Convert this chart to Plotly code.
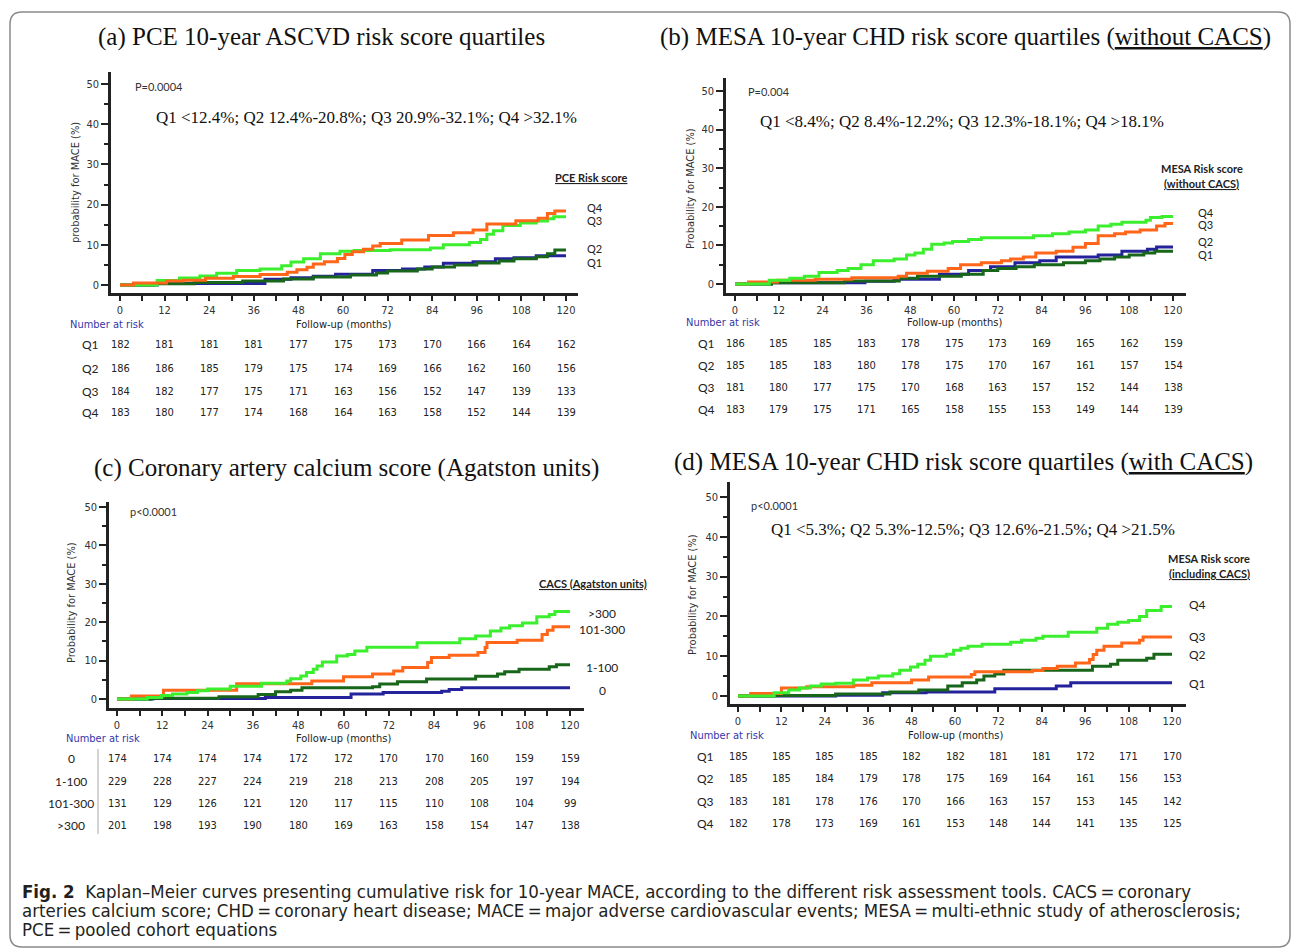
import plotly.graph_objects as go

W, H = 1293, 951

# ------------------------------------------------------------------ data
months = [0, 12, 24, 36, 48, 60, 72, 84, 96, 108, 120]

# Panel (a) PCE
a_q1_t = [0, 10, 39, 46, 52, 58, 68, 76, 82, 87, 95, 101, 106, 112, 120]
a_q1_v = [0, 0.4, 1.4, 1.8, 2.2, 2.7, 3.6, 4.0, 4.5, 5.4, 5.8, 6.5, 6.8, 7.3, 7.3]
a_q2_t = [0, 9, 20, 33, 44, 52, 62, 69, 72, 80, 84, 90, 96, 102, 106, 112, 115, 117, 120]
a_q2_v = [0, 0.3, 0.6, 1.0, 1.5, 2.0, 2.5, 3.0, 3.5, 4.0, 4.5, 5.0, 5.5, 6.0, 6.5, 7.0, 7.8, 8.7, 8.7]
a_q3_t = [0, 3.6, 12.5, 17, 23, 30.5, 37.7, 45, 47.6, 50.3, 52, 55, 58.5, 60.5, 62.5, 65.5, 68, 70,
          75.8, 83, 89.7, 95, 98.7, 106.5, 112.5, 115, 117, 120]
a_q3_v = [0, 0.5, 1.0, 1.2, 1.7, 2.1, 2.6, 3.2, 3.8, 4.4, 5.2, 5.8, 6.6, 7.6, 8.3, 8.9, 9.7, 10.3,
          11.2, 12.3, 13.0, 13.7, 15.2, 16.0, 16.6, 17.8, 18.4, 18.4]
a_q4_t = [0, 10, 16, 21.5, 26, 31.4, 37.7, 43.5, 46, 49.4, 53.9, 59.2, 63, 72.7, 83.5, 87, 94, 97,
          98.7, 100.5, 103, 107.7, 112, 115, 116.7, 120]
a_q4_v = [0, 1.1, 1.75, 2.25, 2.9, 3.6, 4.0, 4.8, 5.7, 6.5, 7.75, 8.4, 8.6, 8.75, 9.2, 10.0, 10.6, 11.3,
          12.6, 13.5, 14.8, 15.4, 15.9, 16.5, 17.0, 17.0]

# Panel (b) MESA without CACS
b_q1_t = [0, 10, 35.6, 43.6, 56, 64, 70, 76.7, 83.5, 88, 99.5, 106, 113, 115.5, 120]
b_q1_v = [0, 0.3, 0.7, 1.2, 2.5, 3.5, 4.5, 5.5, 6.0, 7.0, 7.5, 8.5, 9.0, 9.6, 9.6]
b_q2_t = [0, 10, 30, 45, 50, 62, 68, 72, 77, 82, 90, 96, 100, 104, 108, 112, 115, 120]
b_q2_v = [0, 0.3, 0.8, 1.5, 2.0, 2.5, 3.5, 4.0, 4.5, 5.0, 5.5, 6.0, 6.5, 7.0, 7.5, 8.0, 8.5, 8.5]
b_q3_t = [0, 3.7, 11.6, 22, 32, 44.7, 47, 52.7, 58.4, 61.8, 67.5, 73, 75.5, 79, 82.4, 88, 92.6, 96,
          99.5, 104, 107, 111, 115.5, 117.8, 120]
b_q3_v = [0, 0.5, 1.0, 1.2, 1.6, 2.0, 2.8, 3.3, 4.0, 5.0, 5.5, 6.0, 6.5, 7.0, 8.0, 8.5, 9.5, 10.5,
          12.5, 13.0, 13.5, 14.0, 15.0, 15.7, 15.7]
b_q4_t = [0, 9.4, 15, 19, 23, 28, 31, 34.5, 37.9, 43.6, 47, 49.3, 51.6, 53.9, 57.3, 59.6, 64, 67.5,
          81.8, 87, 91.5, 96, 99.5, 103, 106, 112.6, 113.8, 117, 120]
b_q4_v = [0, 1.0, 1.5, 2.0, 3.0, 3.5, 4.0, 5.0, 6.0, 6.5, 7.5, 8.0, 9.0, 10.3, 10.6, 11.0, 11.5, 12.0,
          12.5, 13.0, 13.5, 14.0, 15.0, 15.5, 16.0, 16.5, 17.2, 17.5, 17.5]

# Panel (c) CACS
c_0_t = [0, 9, 39.3, 62, 70.5, 86, 88, 91.3, 120]
c_0_v = [0, 0.1, 0.4, 1.3, 1.7, 2.0, 2.5, 2.9, 2.9]
c_1_t = [0, 9.5, 27, 37.4, 42, 46, 49, 67.7, 69.6, 74.3, 82, 95, 100.8, 102.7, 106.5, 114.5, 116.4, 120]
c_1_v = [0, 0.2, 0.6, 1.2, 1.9, 2.3, 2.9, 3.2, 3.9, 4.5, 5.2, 5.9, 6.5, 7.1, 7.75, 8.4, 8.9, 8.9]
c_2_t = [0, 3.8, 12.3, 31.7, 51.6, 60, 67.7, 73.3, 75.7, 82.3, 83.3, 88, 95.6, 97.5, 98, 106, 112.6,
         114, 115.5, 120]
c_2_v = [0, 0.8, 2.3, 4.0, 4.7, 5.8, 6.5, 7.3, 8.2, 9.5, 10.8, 11.4, 12.1, 13.4, 14.7, 15.3, 16.8,
         17.9, 18.8, 18.8]
c_3_t = [0, 8, 11.8, 14.7, 18.5, 21.3, 24, 30, 38.3, 45, 46, 48.7, 50.2, 52, 53, 54.4, 58.2, 61, 63,
         66.2, 79.5, 90.8, 95, 98.9, 101.7, 104, 107.4, 111.2, 114.5, 116, 120]
c_3_v = [0, 0.4, 0.9, 1.3, 1.7, 2.15, 2.6, 3.3, 4.1, 4.7, 5.3, 6.0, 6.9, 7.75, 8.6, 9.65, 11.2, 11.6, 12.5,
         13.5, 14.65, 15.7, 16.4, 17.7, 18.5, 19.1, 19.8, 21.4, 22.0, 22.8, 22.8]

# Panel (d) MESA with CACS
d_q1_t = [0, 27, 40, 52, 71, 88, 92, 120]
d_q1_v = [0, 0.2, 0.8, 1.0, 1.8, 2.5, 3.3, 3.3]
d_q2_t = [0, 10, 27, 42, 50, 58, 62, 66, 68, 71, 73.5, 96, 98, 103, 105, 113, 115, 120]
d_q2_v = [0, 0.1, 0.5, 1.0, 1.5, 2.5, 3.3, 4.0, 5.0, 5.5, 6.5, 6.5, 7.5, 8.0, 9.0, 9.5, 10.5, 10.5]
d_q3_t = [0, 3.5, 12, 19, 32, 37, 48, 52.7, 64.5, 65.5, 81.4, 84.3, 88.3, 93.3, 97.2, 98.2, 99.2,
          101.2, 106.1, 111, 112, 120]
d_q3_v = [0, 0.6, 2.0, 2.3, 2.7, 3.3, 4.0, 4.8, 5.4, 6.1, 6.4, 6.9, 7.5, 8.3, 9.2, 10.4, 11.5,
          12.5, 13.3, 14.0, 14.8, 14.8]
d_q4_t = [0, 10, 14, 17, 20, 23, 27, 31.9, 35.8, 38.8, 42.8, 44.7, 47.7, 49.7, 51.7, 53.2, 57.6, 59.6,
          61.6, 63.6, 67.5, 75.4, 78.4, 82.4, 84.3, 91.3, 99.2, 102.2, 105, 108, 111, 113, 117, 120]
d_q4_v = [0, 0.8, 1.5, 2.0, 2.5, 3.0, 3.2, 4.0, 4.5, 5.0, 5.6, 6.5, 7.3, 8.0, 9.0, 10.0, 10.5, 11.5,
          12.0, 12.5, 13.0, 13.5, 14.0, 14.5, 15.0, 16.0, 17.0, 18.0, 18.5, 19.0, 20.0, 21.5, 22.5, 22.5]

# Numbers at risk
a_risk_labels = ["Q1", "Q2", "Q3", "Q4"]
a_risk = [[182, 181, 181, 181, 177, 175, 173, 170, 166, 164, 162],
          [186, 186, 185, 179, 175, 174, 169, 166, 162, 160, 156],
          [184, 182, 177, 175, 171, 163, 156, 152, 147, 139, 133],
          [183, 180, 177, 174, 168, 164, 163, 158, 152, 144, 139]]
b_risk_labels = ["Q1", "Q2", "Q3", "Q4"]
b_risk = [[186, 185, 185, 183, 178, 175, 173, 169, 165, 162, 159],
          [185, 185, 183, 180, 178, 175, 170, 167, 161, 157, 154],
          [181, 180, 177, 175, 170, 168, 163, 157, 152, 144, 138],
          [183, 179, 175, 171, 165, 158, 155, 153, 149, 144, 139]]
c_risk_labels = ["0", "1-100", "101-300", ">300"]
c_risk = [[174, 174, 174, 174, 172, 172, 170, 170, 160, 159, 159],
          [229, 228, 227, 224, 219, 218, 213, 208, 205, 197, 194],
          [131, 129, 126, 121, 120, 117, 115, 110, 108, 104, 99],
          [201, 198, 193, 190, 180, 169, 163, 158, 154, 147, 138]]
d_risk_labels = ["Q1", "Q2", "Q3", "Q4"]
d_risk = [[185, 185, 185, 185, 182, 182, 181, 181, 172, 171, 170],
          [185, 185, 184, 179, 178, 175, 169, 164, 161, 156, 153],
          [183, 181, 178, 176, 170, 166, 163, 157, 153, 145, 142],
          [182, 178, 173, 169, 161, 153, 148, 144, 141, 135, 125]]

# ------------------------------------------------------------------ style
BLUE = "#24239c"
DKGREEN = "#17661a"
ORANGE = "#ff661a"
GREEN = "#3cef2e"
SERIF = "Liberation Serif, Times New Roman, serif"
NARROW = "Liberation Sans Narrow, Arial Narrow, DejaVu Sans Condensed, sans-serif"
CAL = "Lato, Carlito, Calibri, sans-serif"


def px(x):
    return x / W


def py(y):
    return 1 - y / H


fig = go.Figure()

# axis geometry (pixels): x-axis line left/right, y bottom/top, and tick positions
panels = {
    "a": dict(xl=111, xr=578, x0=120, x120=566, yb=293, yt=72, y0=285, y50=84),
    "b": dict(xl=726, xr=1186, x0=735, x120=1173, yb=293, yt=78, y0=284, y50=91),
    "c": dict(xl=109, xr=584, x0=117, x120=570, yb=708, yt=502, y0=699, y50=507),
    "d": dict(xl=730, xr=1186, x0=738, x120=1172, yb=704, yt=482, y0=696, y50=497),
}
axis_ids = {"a": ("x", "y", "xaxis", "yaxis"), "b": ("x2", "y2", "xaxis2", "yaxis2"),
            "c": ("x3", "y3", "xaxis3", "yaxis3"), "d": ("x4", "y4", "xaxis4", "yaxis4")}

layout_axes = {}
for k, g in panels.items():
    xs = (g["x120"] - g["x0"]) / 120.0
    ys = (g["y0"] - g["y50"]) / 50.0
    xrng = [(g["xl"] - g["x0"]) / xs, 120 + (g["xr"] - g["x120"]) / xs]
    yrng = [-(g["yb"] - g["y0"]) / ys, (g["y0"] - g["yt"]) / ys]
    xa, ya, xn, yn = axis_ids[k]
    layout_axes[xn] = dict(domain=[px(g["xl"]), px(g["xr"])], range=xrng, anchor=ya,
                           showline=True, linewidth=2.5, linecolor="#222", showgrid=False,
                           zeroline=False, ticks="outside", ticklen=5, tickwidth=2, tickcolor="#222",
                           tickmode="array", tickvals=months, ticktext=[str(m) for m in months],
                           minor=dict(tickmode="linear", tick0=0, dtick=6, ticks="outside", ticklen=5,
                                      tickwidth=2, tickcolor="#222"),
                           tickfont=dict(family=NARROW, size=11, color="#333"), fixedrange=True)
    layout_axes[yn] = dict(domain=[py(g["yb"]), py(g["yt"])], range=yrng, anchor=xa,
                           showline=True, linewidth=2.5, linecolor="#222", showgrid=False,
                           zeroline=False, ticks="outside", ticklen=7, tickwidth=2, tickcolor="#222",
                           tickmode="array", tickvals=[0, 10, 20, 30, 40, 50],
                           minor=dict(tickmode="linear", tick0=0, dtick=5, ticks="outside", ticklen=4,
                                      tickwidth=2, tickcolor="#222"),
                           tickfont=dict(family=NARROW, size=11, color="#333"), fixedrange=True)


def add_curve(t, v, color, name, k):
    xa, ya, _, _ = axis_ids[k]
    fig.add_trace(go.Scatter(x=t, y=v, mode="lines", line=dict(color=color, width=3, shape="hv"),
                             name=name, xaxis=xa, yaxis=ya, showlegend=False, hoverinfo="skip"))


add_curve(a_q1_t, a_q1_v, BLUE, "Q1", "a")
add_curve(a_q2_t, a_q2_v, DKGREEN, "Q2", "a")
add_curve(a_q4_t, a_q4_v, GREEN, "Q3", "a")
add_curve(a_q3_t, a_q3_v, ORANGE, "Q4", "a")

add_curve(b_q1_t, b_q1_v, BLUE, "Q1", "b")
add_curve(b_q2_t, b_q2_v, DKGREEN, "Q2", "b")
add_curve(b_q3_t, b_q3_v, ORANGE, "Q3", "b")
add_curve(b_q4_t, b_q4_v, GREEN, "Q4", "b")

add_curve(c_0_t, c_0_v, BLUE, "0", "c")
add_curve(c_1_t, c_1_v, DKGREEN, "1-100", "c")
add_curve(c_2_t, c_2_v, ORANGE, "101-300", "c")
add_curve(c_3_t, c_3_v, GREEN, ">300", "c")

add_curve(d_q1_t, d_q1_v, BLUE, "Q1", "d")
add_curve(d_q2_t, d_q2_v, DKGREEN, "Q2", "d")
add_curve(d_q3_t, d_q3_v, ORANGE, "Q3", "d")
add_curve(d_q4_t, d_q4_v, GREEN, "Q4", "d")

ann = []


def text(x, y, s, size=11, family=NARROW, color="#222", xanchor="center", angle=0):
    ann.append(dict(x=px(x), y=py(y), xref="paper", yref="paper", text=s, showarrow=False,
                    xanchor=xanchor, yanchor="middle", textangle=angle,
                    font=dict(size=size, family=family, color=color)))


U = "<span style='text-decoration:underline'>{}</span>"

# titles
text(321, 37, "(a) PCE 10-year ASCVD risk score quartiles", 25, SERIF, "#111")
text(965, 37, "(b) MESA 10-year CHD risk score quartiles (" + U.format("without CACS") + ")", 25, SERIF, "#111")
text(346, 468, "(c) Coronary artery calcium score (Agatston units)", 25, SERIF, "#111")
text(963, 462, "(d) MESA 10-year CHD risk score quartiles (" + U.format("with CACS") + ")", 25, SERIF, "#111")

# p values
text(133, 86, "P=0.0004", 11, CAL, "#333", "left")
text(746, 92, "P=0.004", 11, CAL, "#333", "left")
text(128, 511, "p<0.0001", 11, CAL, "#333", "left")
text(749, 505, "p<0.0001", 11, CAL, "#333", "left")

# quartile definitions
text(154, 117, "Q1 &lt;12.4%; Q2 12.4%-20.8%; Q3 20.9%-32.1%; Q4 &gt;32.1%", 17, SERIF, "#111", "left")
text(758, 122, "Q1 &lt;8.4%; Q2 8.4%-12.2%; Q3 12.3%-18.1%; Q4 &gt;18.1%", 17, SERIF, "#111", "left")
text(769, 529, "Q1 &lt;5.3%; Q2 5.3%-12.5%; Q3 12.6%-21.5%; Q4 &gt;21.5%", 17, SERIF, "#111", "left")

# y-axis titles
text(75, 183, "probability for MACE (%)", 11, NARROW, "#333", angle=-90)
text(690, 188, "Probability for MACE (%)", 11, NARROW, "#333", angle=-90)
text(71, 603, "Probability for MACE (%)", 11, NARROW, "#333", angle=-90)
text(692, 595, "Probability for MACE (%)", 11, NARROW, "#333", angle=-90)

# legend titles
text(591, 178, "<b>" + U.format("PCE Risk score") + "</b>", 11, CAL, "#222")
text(1202, 168, "<b>MESA Risk score</b>", 11, CAL, "#222")
text(1201, 183, "<b>" + U.format("(without CACS)") + "</b>", 11, CAL, "#222")
text(593, 583, "<b>" + U.format("CACS (Agatston units)") + "</b>", 11, CAL, "#222")
text(1209, 558, "<b>MESA Risk score</b>", 11, CAL, "#222")
text(1209, 573, "<b>" + U.format("(including CACS)") + "</b>", 11, CAL, "#222")

# curve end labels
for s, yy in zip(["Q4", "Q3", "Q2", "Q1"], [208, 220, 249, 262]):
    text(585, yy, s, 11, CAL, "#222", "left")
for s, yy in zip(["Q4", "Q3", "Q2", "Q1"], [213, 225, 242, 254]):
    text(1196, yy, s, 11, CAL, "#222", "left")
for s, yy in zip([">300", "101-300", "1-100", "0"], [613, 629, 667, 690]):
    text(602, yy, s, 12, CAL, "#222")
for s, yy in zip(["Q4", "Q3", "Q2", "Q1"], [604, 636, 654, 683]):
    text(1187, yy, s, 12, CAL, "#222", "left")

# number-at-risk tables
tables = {
    "a": (a_risk_labels, a_risk, 68, 324, 90, [345, 368, 391, 413]),
    "b": (b_risk_labels, b_risk, 684, 322, 706, [343, 365, 387, 409]),
    "c": (c_risk_labels, c_risk, 64, 738, 71, [758, 781, 803, 825]),
    "d": (d_risk_labels, d_risk, 688, 735, 705, [756, 778, 801, 823]),
}
for k, (labels, rows, nx, ny, lx, rys) in tables.items():
    xa = axis_ids[k][0]
    text(nx, ny, "Number at risk", 11, NARROW, "#3535a8", "left")
    ann.append(dict(x=60, y=py(ny), xref=xa, yref="paper", text="Follow-up (months)", showarrow=False,
                    xanchor="center", yanchor="middle", font=dict(size=11, family=NARROW, color="#222")))
    for lab, row, ry in zip(labels, rows, rys):
        text(lx, ry, lab, 12, CAL, "#222")
        for m, n in zip(months, row):
            ann.append(dict(x=m, y=py(ry), xref=xa, yref="paper", text=str(n), showarrow=False,
                            xanchor="center", yanchor="middle",
                            font=dict(size=11, family=NARROW, color="#222")))

# caption
CAP = "Liberation Sans Narrow, DejaVu Sans Condensed, Arial Narrow, sans-serif"
CS = 18.5
text(20, 891, "<b>Fig. 2</b>  Kaplan\u2013Meier curves presenting cumulative risk for 10-year MACE, according to the "
     "different risk assessment tools. CACS\u2009=\u2009coronary", CS, CAP, "#231f20", "left")
text(20, 910, "arteries calcium score; CHD\u2009=\u2009coronary heart disease; MACE\u2009=\u2009major adverse "
     "cardiovascular events; MESA\u2009=\u2009multi-ethnic study of atherosclerosis;", CS, CAP, "#231f20", "left")
text(20, 929, "PCE\u2009=\u2009pooled cohort equations", CS, CAP, "#231f20", "left")

# shapes: outer rounded frame, separator line in table (c)
r = 12
x1, y1, x2, y2 = 10, 12, 1290, 947
path = (f"M {px(x1 + r)},{py(y1)} L {px(x2 - r)},{py(y1)} Q {px(x2)},{py(y1)} {px(x2)},{py(y1 + r)} "
        f"L {px(x2)},{py(y2 - r)} Q {px(x2)},{py(y2)} {px(x2 - r)},{py(y2)} "
        f"L {px(x1 + r)},{py(y2)} Q {px(x1)},{py(y2)} {px(x1)},{py(y2 - r)} "
        f"L {px(x1)},{py(y1 + r)} Q {px(x1)},{py(y1)} {px(x1 + r)},{py(y1)} Z")
shapes = [dict(type="path", path=path, xref="paper", yref="paper", line=dict(color="#8a8a8a", width=1.5)),
          dict(type="line", xref="paper", yref="paper", x0=px(98), x1=px(98), y0=py(749), y1=py(834),
               line=dict(color="#aaaaaa", width=1))]

fig.update_layout(width=W, height=H, autosize=False, margin=dict(l=0, r=0, t=0, b=0),
                  paper_bgcolor="white", plot_bgcolor="white", showlegend=False,
                  annotations=ann, shapes=shapes, **layout_axes)

fig.write_html("out.html", config={"displayModeBar": False})
